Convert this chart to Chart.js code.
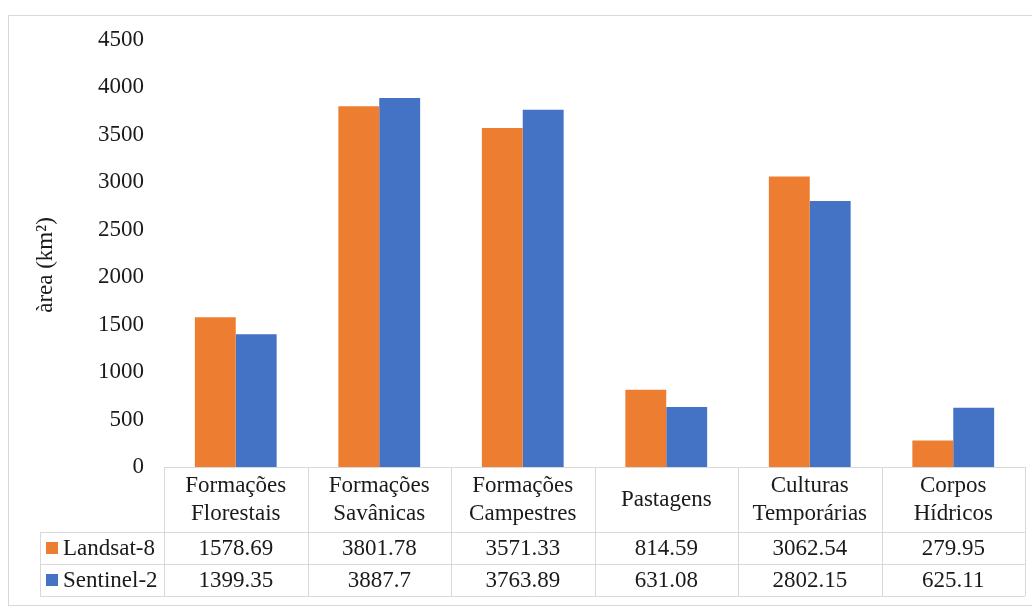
<!DOCTYPE html>
<html>
<head>
<meta charset="utf-8">
<script src="https://cdn.jsdelivr.net/npm/chart.js@4"></script>
<style>
  html, body { margin: 0; padding: 0; background: #fff; }
  #box { width: 1032px; height: 608px; }
</style>
</head>
<body>
<div id="box"><canvas id="myChart"></canvas></div>
<script>
const categories = [
  ['Formações', 'Florestais'],
  ['Formações', 'Savânicas'],
  ['Formações', 'Campestres'],
  ['Pastagens'],
  ['Culturas', 'Temporárias'],
  ['Corpos', 'Hídricos']
];
const landsat = [1578.69, 3801.78, 3571.33, 814.59, 3062.54, 279.95];
const sentinel = [1399.35, 3887.7, 3763.89, 631.08, 2802.15, 625.11];
const seriesNames = ['Landsat-8', 'Sentinel-2'];
const yTicks = [0, 500, 1000, 1500, 2000, 2500, 3000, 3500, 4000, 4500];
const yTitle = 'àrea (km²)';

const FONT = "'Liberation Serif', 'Times New Roman', serif";
const FS = 23;
const GRID = '#d9d9d9';
const INK = '#1a1a1a';

// frame, y title and the data table under the plot
const tablePlugin = {
  id: 'dataTable',
  beforeDraw(chart) {
    const ctx = chart.ctx;
    ctx.save();
    ctx.strokeStyle = GRID;
    ctx.lineWidth = 1;
    ctx.strokeRect(8.5, 15.5, 1040, 590);
    ctx.restore();
  },
  afterDraw(chart) {
    const ctx = chart.ctx;
    const area = chart.chartArea;
    const x = chart.scales.x;
    const n = chart.data.labels.length;
    const colW = (area.right - area.left) / n;
    const top = area.bottom;
    const headBottom = top + 65;
    const rowH = 32;
    const legendLeft = 40;

    ctx.save();
    ctx.font = FS + 'px ' + FONT;
    ctx.fillStyle = INK;
    ctx.textAlign = 'center';
    ctx.textBaseline = 'middle';
    ctx.translate(46, 265);
    ctx.rotate(-Math.PI / 2);
    ctx.fillText(yTitle, 0, 0);
    ctx.restore();

    ctx.save();
    ctx.strokeStyle = GRID;
    ctx.lineWidth = 1;
    ctx.beginPath();
    ctx.moveTo(area.left, top + 0.5);
    ctx.lineTo(area.right, top + 0.5);
    for (let r = 0; r <= 2; r++) {
      const y = Math.round(headBottom + r * rowH) + 0.5;
      ctx.moveTo(legendLeft, y);
      ctx.lineTo(area.right, y);
    }
    ctx.moveTo(legendLeft + 0.5, headBottom);
    ctx.lineTo(legendLeft + 0.5, headBottom + 2 * rowH);
    for (let i = 0; i <= n; i++) {
      const xx = Math.round(area.left + i * colW) + 0.5;
      ctx.moveTo(xx, top);
      ctx.lineTo(xx, headBottom + 2 * rowH);
    }
    ctx.stroke();

    ctx.fillStyle = INK;
    ctx.font = FS + 'px ' + FONT;
    ctx.textAlign = 'center';
    ctx.textBaseline = 'middle';
    chart.data.labels.forEach((lab, i) => {
      const cx = x.getPixelForValue(i);
      const midY = (top + headBottom) / 2;
      const lines = Array.isArray(lab) ? lab : [lab];
      lines.forEach((t, k) => {
        ctx.fillText(t, cx, midY + (k - (lines.length - 1) / 2) * 28);
      });
    });

    chart.data.datasets.forEach((ds, r) => {
      const cy = headBottom + r * rowH + rowH / 2;
      ctx.fillStyle = ds.backgroundColor;
      ctx.fillRect(legendLeft + 6, cy - 6, 12, 12);
      ctx.fillStyle = INK;
      ctx.textAlign = 'left';
      ctx.fillText(ds.label, legendLeft + 23, cy + 1);
      ctx.textAlign = 'center';
      ds.data.forEach((v, i) => {
        ctx.fillText(String(v), x.getPixelForValue(i), cy + 1);
      });
    });
    ctx.restore();
  }
};

const ctx = document.getElementById('myChart').getContext('2d');
new Chart(ctx, {
  type: 'bar',
  data: {
    labels: categories,
    datasets: [
      { label: seriesNames[0], data: landsat, backgroundColor: '#ED7D31' },
      { label: seriesNames[1], data: sentinel, backgroundColor: '#4472C4' }
    ]
  },
  options: {
    responsive: true,
    maintainAspectRatio: false,
    animation: false,
    devicePixelRatio: 1,
    layout: { padding: { left: 20, right: 7, top: 40, bottom: 141 } },
    datasets: { bar: { categoryPercentage: 0.57, barPercentage: 1.0 } },
    plugins: { legend: { display: false }, tooltip: { enabled: false } },
    scales: {
      x: { display: false },
      y: {
        min: 0,
        max: 4500,
        afterBuildTicks(scale) { scale.ticks = yTicks.map(v => ({ value: v })); },
        afterFit(scale) { scale.width = 144; },
        grid: { display: false, drawTicks: false },
        border: { display: false },
        ticks: {
          color: INK,
          font: { family: FONT, size: FS },
          padding: 20,
          callback: v => String(v)
        }
      }
    }
  },
  plugins: [tablePlugin]
});
</script>
</body>
</html>
